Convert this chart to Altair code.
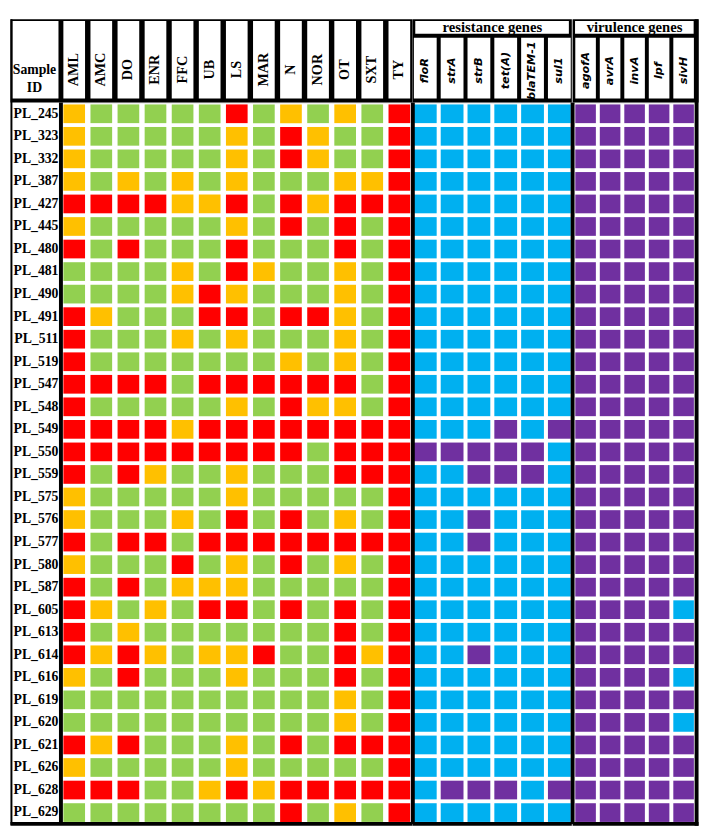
import altair as alt
import pandas as pd

samples = ["PL_245", "PL_323", "PL_332", "PL_387", "PL_427", "PL_445", "PL_480", "PL_481",
           "PL_490", "PL_491", "PL_511", "PL_519", "PL_547", "PL_548", "PL_549", "PL_550",
           "PL_559", "PL_575", "PL_576", "PL_577", "PL_580", "PL_587", "PL_605", "PL_613",
           "PL_614", "PL_616", "PL_619", "PL_620", "PL_621", "PL_626", "PL_628", "PL_629"]
antibiotics = ["AML", "AMC", "DO", "ENR", "FFC", "UB", "LS", "MAR", "N", "NOR", "OT", "SXT", "TY"]
resistance_genes = ["floR", "strA", "strB", "tet(A)", "blaTEM-1", "sul1"]
virulence_genes = ["agofA", "avrA", "invA", "lpf", "sivH"]
group_titles = ["resistance genes", "virulence genes"]
id_header = ["Sample ID"]

# one letter per antibiotic: S susceptible, I intermediate, R resistant
ast_profiles = [
    "ISSSSSRSISISR", "ISSSSSISRISSR", "ISSSSSISRISSR", "ISISISISSSIIR",
    "RRRRIIRSRIRRR", "ISSSSSISRSRSR", "RSRSSSRSSSRSR", "SSSSISRISSISR",
    "SSSSIRISSSISR", "RISSSRRSRRISR", "RSSSISISSSISR", "RSSSSSSSISISR",
    "RRRRSRRRRRRSR", "RSSSSSISRIISR", "RRRRIRRRRRRRR", "RRRRRRRRRSRRR",
    "RSRISSISSSRRR", "ISSSSSISSSSSR", "ISSSISRSRSISR", "RSRRSRRRRRRRR",
    "ISSSRSISRSISR", "RSRSIIISSSSSR", "RISISRRSRSRSR", "RSISSSSSSSRSR",
    "RIRISIIRSSRIR", "ISRSSSISSSRSR", "SSSSSSSSSSISR", "SSSSSSSSSSISR",
    "RIRSSSISRSRRR", "ISSSSSISSSSSR", "RRRSSIRIRRRRR", "SSSSSSSSRSISR",
]
# one sign per gene: + detected, - not detected
resistance_profiles = [
    "++++++", "++++++", "++++++", "++++++", "++++++", "++++++", "++++++", "++++++",
    "++++++", "++++++", "++++++", "++++++", "++++++", "++++++", "+++-+-", "-----+",
    "++---+", "++++++", "++-+++", "++-+++", "++++++", "++++++", "++++++", "++++++",
    "++-+++", "++++++", "++++++", "++++++", "++++++", "++++++", "+---+-", "++++++",
]
virulence_profiles = [
    "+++++", "+++++", "+++++", "+++++", "+++++", "+++++", "+++++", "+++++",
    "+++++", "+++++", "+++++", "+++++", "+++++", "+++++", "+++++", "+++++",
    "+++++", "+++++", "+++++", "+++++", "+++++", "+++++", "++++-", "+++++",
    "+++++", "++++-", "+++++", "++++-", "+++++", "+++++", "+++++", "+++++",
]

codes = ["S", "I", "R", "res+", "res-", "vir+", "vir-"]
code_colors = ["#92D050", "#FFC000", "#FF0000", "#00B0F0", "#7030A0", "#7030A0", "#00B0F0"]


def long_table(columns, profiles, prefix):
    rows = []
    for s, prof in zip(samples, profiles):
        for c, v in zip(columns, prof):
            rows.append({"sample": s, "col": c, "code": prefix + v})
    return pd.DataFrame(rows)


ast_df = long_table(antibiotics, ast_profiles, "")
res_df = long_table(resistance_genes, resistance_profiles, "res")
vir_df = long_table(virulence_genes, virulence_profiles, "vir")

H = 736
W_A, W_R, W_V = 358.8, 162.2, 126.5
HEAD = -85
LEFT = -51.5

cscale = alt.Scale(domain=codes, range=code_colors)
yscale = alt.Scale(domain=samples, paddingInner=0.17, paddingOuter=0.087)

SERIF = "Liberation Serif"


def top_axis(font, size, style, pad):
    return alt.Axis(orient="top", title=None, domain=False, ticks=False, tickSize=0,
                    labelAngle=270, labelAlign="center", labelBaseline="middle",
                    labelPadding=pad, labelFont=font, labelFontWeight="bold",
                    labelFontStyle=style, labelFontSize=size, labelColor="black",
                    labelOverlap=False, zindex=1)


def cells(df, xscale, xaxis, yaxis):
    return alt.Chart(df).mark_rect().encode(
        x=alt.X("col:N", scale=xscale, axis=xaxis),
        y=alt.Y("sample:N", scale=yscale, axis=yaxis),
        color=alt.Color("code:N", scale=cscale, legend=None),
    )


def header_boxes(columns, xscale, xaxis, top):
    return alt.Chart(pd.DataFrame({"col": columns})).mark_rect(color="white").encode(
        x=alt.X("col:N", scale=xscale, axis=xaxis),
        y=alt.value(top), y2=alt.value(-4),
    )


def vrule(df, x, y0, y1, w):
    return alt.Chart(df).mark_rule(color="black", strokeWidth=w).encode(
        x=alt.value(x), y=alt.value(y0), y2=alt.value(y1))


def hrule(df, x0, x1, y, w):
    return alt.Chart(df).mark_rule(color="black", strokeWidth=w).encode(
        x=alt.value(x0), x2=alt.value(x1), y=alt.value(y))


# ---- antibiotics panel ----
xs_a = alt.Scale(domain=antibiotics, paddingInner=0.2, paddingOuter=0.09)
xa_a = top_axis(SERIF, 14.5, "normal", 34)
ya = alt.Axis(orient="left", title=None, domain=False, ticks=False, labelPadding=3,
              labelFont=SERIF, labelFontWeight="bold", labelFontSize=14,
              labelColor="black", labelOverlap=False, zindex=1)
id_df = pd.DataFrame({"label": id_header})
bg_a = alt.Chart(id_df).mark_rect(color="black").encode(
    x=alt.value(LEFT), x2=alt.value(W_A), y=alt.value(HEAD), y2=alt.value(0))
id_box = alt.Chart(id_df).mark_rect(color="white").encode(
    x=alt.value(LEFT + 2), x2=alt.value(-2.5), y=alt.value(-83), y2=alt.value(-4))
id_text = alt.Chart(id_df).mark_text(
    font=SERIF, fontWeight="bold", fontSize=14, color="black", lineBreak=" ",
    lineHeight=18, align="center", baseline="middle").encode(
    x=alt.value(-27), y=alt.value(-33), text="label:N")
panel_a = alt.layer(
    bg_a, id_box, id_text,
    header_boxes(antibiotics, xs_a, xa_a, -83),
    cells(ast_df, xs_a, xa_a, ya),
    vrule(id_df, 0, 0, H, 4),
    vrule(id_df, LEFT + 1, HEAD, H + 1, 2),
    hrule(id_df, LEFT, W_A, H, 4),
).properties(width=W_A, height=H)


def gene_panel(columns, df, width, p_in, p_out, title, last):
    xs = alt.Scale(domain=columns, paddingInner=p_in, paddingOuter=p_out)
    xa = top_axis("DejaVu Sans", 11.5, "italic", 33)
    tdf = pd.DataFrame({"group": [title]})
    extra = 2 if last else 0
    bg = alt.Chart(tdf).mark_rect(color="black").encode(
        x=alt.value(0), x2=alt.value(width + extra), y=alt.value(HEAD), y2=alt.value(0))
    tbox = alt.Chart(tdf).mark_rect(color="white").encode(
        x=alt.value(2.5), x2=alt.value(width - 3), y=alt.value(-83), y2=alt.value(-70))
    ttext = alt.Chart(tdf).mark_text(
        font=SERIF, fontWeight="bold", fontSize=15, color="black",
        align="center", baseline="middle").encode(
        x=alt.value(width / 2), y=alt.value(-76.5), text="group:N")
    layers = [
        bg, tbox, ttext,
        header_boxes(columns, xs, xa, -66),
        cells(df, xs, xa, None),
        vrule(tdf, 0, 0, H, 4),
        hrule(tdf, 0, width + extra, H, 4),
    ]
    if last:
        layers.append(vrule(tdf, width, HEAD, H + 2, 4))
    return alt.layer(*layers).properties(width=width, height=H)


panel_r = gene_panel(resistance_genes, res_df, W_R, 0.15, 0.04, group_titles[0], False)
panel_v = gene_panel(virulence_genes, vir_df, W_V, 0.16, 0.11, group_titles[1], True)

chart = alt.hconcat(panel_a, panel_r, panel_v, spacing=0, bounds="flush", padding=0).resolve_scale(
    x="independent", y="independent", color="independent"
).configure_view(stroke="transparent").configure(background="white")

chart.save("out.html", embed_options={"renderer": "svg", "actions": False})
